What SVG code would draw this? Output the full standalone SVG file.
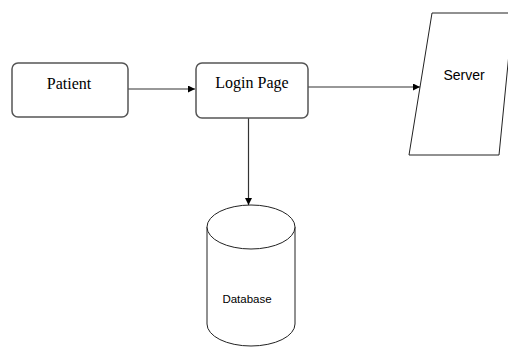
<svg xmlns="http://www.w3.org/2000/svg" width="508" height="347" viewBox="0 0 508 347">
<style>
.box{fill:#fff;stroke:#555;stroke-width:1.5}
.shape{fill:#fff;stroke:#222;stroke-width:1}
.edge{fill:none;stroke:#333;stroke-width:1.2}
.serif{font-family:"Liberation Serif","Times New Roman",serif;font-size:16px;fill:#000;text-anchor:middle}
.sans{font-family:"Liberation Sans",Arial,sans-serif;fill:#000;text-anchor:middle}
</style>
<defs>
<marker id="arr" viewBox="0 0 10 10" refX="10" refY="5" markerWidth="7" markerHeight="7" markerUnits="userSpaceOnUse" orient="auto">
<path d="M0,0 L10,5 L0,10 z" fill="#000"/>
</marker>
</defs>
<rect width="508" height="347" fill="#fff"/>
<g id="connectors">
<line class="edge" x1="128" y1="89" x2="195" y2="89" marker-end="url(#arr)"/>
<line class="edge" x1="308" y1="87" x2="420" y2="87" marker-end="url(#arr)"/>
<line class="edge" x1="248.5" y1="118" x2="248.5" y2="205" marker-end="url(#arr)"/>
</g>
<g id="patient">
<rect class="box" x="12" y="63" width="116" height="54" rx="6"/>
<text class="serif" x="69" y="89">Patient</text>
</g>
<g id="login">
<rect class="box" x="196" y="63" width="112" height="55" rx="6"/>
<text class="serif" x="252" y="88">Login Page</text>
</g>
<g id="server">
<polygon class="shape" points="432,13 513,13 499,155 409,155"/>
<text class="sans" x="464" y="80" font-size="14">Server</text>
</g>
<g id="database">
<path class="shape" d="M207,227 L207,324 A44,22 0 0 0 295,324 L295,227"/>
<ellipse class="shape" cx="251" cy="227" rx="44" ry="22"/>
<text class="sans" x="247" y="303" font-size="11.5">Database</text>
</g>
</svg>
